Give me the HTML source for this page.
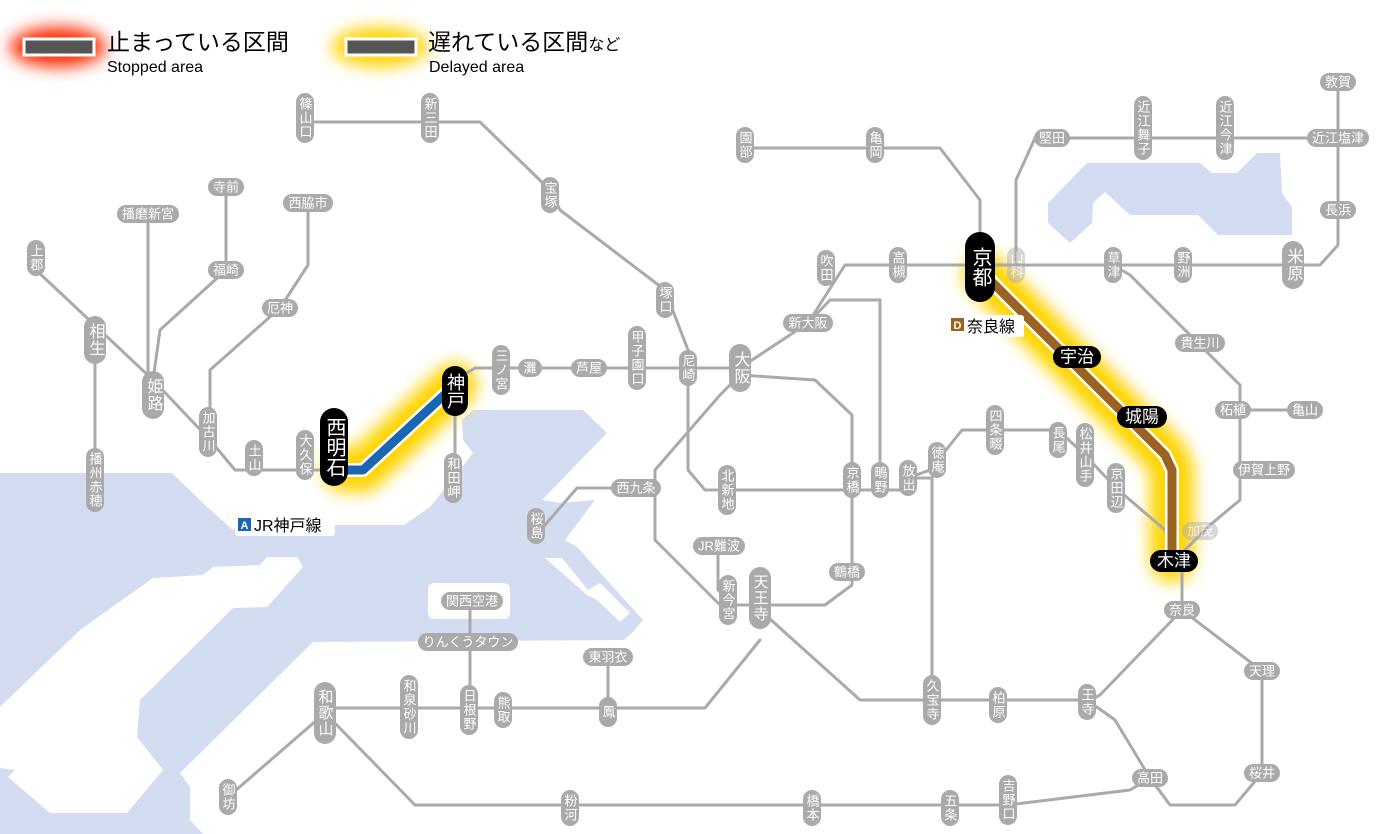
<!DOCTYPE html>
<html><head><meta charset="utf-8"><style>
html,body{margin:0;padding:0;background:#fff;}
svg{display:block;font-family:"Liberation Sans","Noto Sans CJK JP",sans-serif;}
.l{fill:none;stroke:#aaa;stroke-width:3;stroke-linejoin:round;stroke-linecap:round}
.s rect{fill:#aaa}
.s text{fill:#fff;font-size:13px;text-anchor:middle;dominant-baseline:central}
.v text{writing-mode:vertical-rl;letter-spacing:1px}
.b rect{fill:#000}
.b text{fill:#fff;font-size:19px;text-anchor:middle;dominant-baseline:central}
</style></head><body>
<svg width="1400" height="834" viewBox="0 0 1400 834" xmlns="http://www.w3.org/2000/svg">
<defs>
<filter id="bl" x="-50%" y="-50%" width="200%" height="200%"><feGaussianBlur stdDeviation="8"/></filter>
</defs>
<!-- sea -->
<polygon fill="#d3dcf0" points="0,473 172,473 203,503 233,530 240,525 404,525 430,507 473,453 463,440 462,420 473,410 583,410 607,433 542,500 560,503 595,500 565,540 577,547 643,620 633,632 624,640 313,642 180,773 190,787 190,820 203,834 0,834"/>
<polygon fill="#fff" points="0,707 80,630 153,578 203,575 213,567 260,565 267,557 297,557 303,567 267,607 233,608 140,700 137,737 163,770 127,813 50,813 8,777 15,770 0,768"/>
<rect x="428" y="583" width="82" height="36" rx="6" fill="#fff"/>
<polygon fill="#fff" points="545,558 562,558 588,590 600,583 630,613 620,622 597,600 587,595"/>
<!-- Lake Biwa -->
<polygon fill="#d3dcf0" points="1048,203 1087,163 1200,163 1212,173 1237,173 1257,153 1280,153 1282,193 1292,207 1292,235 1218,235 1198,215 1130,215 1105,192 1093,203 1092,223 1070,243 1048,223"/>
<!-- glows -->
<polyline points="345,470 363,470 455,385" fill="none" stroke="#ffd400" stroke-width="44" stroke-linecap="round" filter="url(#bl)"/>
<polyline points="985,275 1165,455 1172,470 1172,560" fill="none" stroke="#ffd400" stroke-width="44" stroke-linecap="round" filter="url(#bl)"/>
<!-- lines -->
<g class="l">
<polyline points="36,270 153,380 210,440 235,470 333,470"/>
<polyline points="95,340 95,480"/>
<polyline points="226,187 226,270 160,330 153,380"/>
<polyline points="148,214 148,380"/>
<polyline points="308,203 308,265 280,308 210,370 210,440"/>
<polyline points="455,380 475,368 740,368"/>
<polyline points="455,395 455,480"/>
<polyline points="740,375 815,380 852,415 852,585 825,605 720,605 655,540 655,470 720,395 740,375"/>
<polyline points="688,368 688,470 705,490 908,490"/>
<polyline points="305,122 480,122 550,190 560,210 665,290 688,350"/>
<polyline points="745,148 940,148 980,200 980,265"/>
<polyline points="740,368 808,323 845,265 1320,265 1338,245 1338,82"/>
<polyline points="1016,265 1016,180 1035,138 1338,138"/>
<polyline points="1113,265 1130,275 1240,385 1240,500 1210,525 1180,555"/>
<polyline points="1240,410 1305,410"/>
<polyline points="1182,555 1182,610"/>
<polyline points="1182,610 1262,671 1262,773 1235,805 1170,805 1150,778"/>
<polyline points="1182,610 1100,695 1087,702"/>
<polyline points="760,610 860,700 1087,700 1115,720 1150,778"/>
<polyline points="325,713 415,805 1008,805 1130,790 1150,778"/>
<polyline points="325,708 705,708 760,640"/>
<polyline points="470,601 470,708"/>
<polyline points="608,657 608,712"/>
<polyline points="325,713 228,797"/>
<polyline points="636,488 577,488 545,525"/>
<polyline points="718,546 718,590 728,600"/>
<polyline points="808,323 830,300 880,300 880,490"/>
<polyline points="908,478 932,478 932,700"/>
<polyline points="908,478 930,470 962,430 1058,430 1085,455 1116,488 1165,530 1180,555"/>
</g>
<!-- highlighted -->
<polyline points="345,470 363,470 455,385" fill="none" stroke="#fff" stroke-width="14" stroke-linejoin="round"/>
<polyline points="345,470 363,470 455,385" fill="none" stroke="#1a66b3" stroke-width="9" stroke-linejoin="round"/>
<polyline points="985,275 1165,455 1172,470 1172,560" fill="none" stroke="#fff" stroke-width="14" stroke-linejoin="round"/>
<polyline points="985,275 1165,455 1172,470 1172,560" fill="none" stroke="#9a6320" stroke-width="9" stroke-linejoin="round"/>
<!-- vertical gray labels -->
<g class="s v">
<rect x="296" y="93" width="18" height="50" rx="9"/><text x="305" y="118">篠山口</text>
<rect x="421" y="93" width="18" height="50" rx="9"/><text x="430" y="118">新三田</text>
<rect x="541" y="177" width="18" height="36" rx="9"/><text x="550" y="195">宝塚</text>
<rect x="656" y="282" width="18" height="36" rx="9"/><text x="665" y="300">塚口</text>
<rect x="679" y="350" width="18" height="36" rx="9"/><text x="688" y="368">尼崎</text>
<rect x="817" y="250" width="18" height="36" rx="9"/><text x="826" y="268">吹田</text>
<rect x="889" y="247" width="18" height="36" rx="9"/><text x="898" y="265">高槻</text>
<g opacity=".45"><rect x="1007" y="247" width="18" height="36" rx="9"/><text x="1016" y="265">山科</text></g>
<rect x="1104" y="247" width="18" height="36" rx="9"/><text x="1113" y="265">草津</text>
<rect x="1174" y="247" width="18" height="36" rx="9"/><text x="1183" y="265">野洲</text>
<rect x="1216" y="96" width="18" height="64" rx="9"/><text x="1225" y="128">近江今津</text>
<rect x="1134" y="96" width="18" height="64" rx="9"/><text x="1143" y="128">近江舞子</text>
<rect x="736" y="127" width="18" height="36" rx="9"/><text x="745" y="145">園部</text>
<rect x="866" y="127" width="18" height="36" rx="9"/><text x="875" y="145">亀岡</text>
<rect x="492" y="345" width="18" height="50" rx="9"/><text x="501" y="370">三ノ宮</text>
<rect x="628" y="326" width="18" height="64" rx="9"/><text x="637" y="358">甲子園口</text>
<rect x="296" y="430" width="18" height="50" rx="9"/><text x="305" y="455">大久保</text>
<rect x="245" y="440" width="18" height="36" rx="9"/><text x="254" y="458">土山</text>
<rect x="199" y="407" width="18" height="50" rx="9"/><text x="208" y="432">加古川</text>
<rect x="27" y="240" width="18" height="36" rx="9"/><text x="36" y="258">上郡</text>
<rect x="86" y="448" width="18" height="64" rx="9"/><text x="95" y="480">播州赤穂</text>
<rect x="444" y="453" width="18" height="50" rx="9"/><text x="453" y="478">和田岬</text>
<rect x="527" y="508" width="18" height="36" rx="9"/><text x="536" y="526">桜島</text>
<rect x="718" y="465" width="18" height="50" rx="9"/><text x="727" y="490">北新地</text>
<rect x="843" y="462" width="18" height="36" rx="9"/><text x="852" y="480">京橋</text>
<rect x="871" y="462" width="18" height="36" rx="9"/><text x="880" y="480">鴫野</text>
<rect x="899" y="460" width="18" height="36" rx="9"/><text x="908" y="478">放出</text>
<rect x="928" y="442" width="18" height="36" rx="9"/><text x="937" y="460">徳庵</text>
<rect x="986" y="405" width="18" height="50" rx="9"/><text x="995" y="430">四条畷</text>
<rect x="1049" y="422" width="18" height="36" rx="9"/><text x="1058" y="440">長尾</text>
<rect x="1076" y="423" width="18" height="64" rx="9"/><text x="1085" y="455">松井山手</text>
<rect x="1107" y="463" width="18" height="50" rx="9"/><text x="1116" y="488">京田辺</text>
<rect x="1078" y="684" width="18" height="36" rx="9"/><text x="1087" y="702">王寺</text>
<rect x="989" y="687" width="18" height="36" rx="9"/><text x="998" y="705">柏原</text>
<rect x="923" y="675" width="18" height="50" rx="9"/><text x="932" y="700">久宝寺</text>
<rect x="719" y="575" width="18" height="50" rx="9"/><text x="728" y="600">新今宮</text>
<rect x="599" y="697" width="18" height="30" rx="9"/><text x="608" y="712">鳳</text>
<rect x="494" y="692" width="18" height="36" rx="9"/><text x="503" y="710">熊取</text>
<rect x="460" y="685" width="18" height="50" rx="9"/><text x="469" y="710">日根野</text>
<rect x="400" y="675" width="18" height="64" rx="9"/><text x="409" y="707">和泉砂川</text>
<rect x="219" y="779" width="18" height="36" rx="9"/><text x="228" y="797">御坊</text>
<rect x="561" y="790" width="18" height="36" rx="9"/><text x="570" y="808">粉河</text>
<rect x="803" y="790" width="18" height="36" rx="9"/><text x="812" y="808">橋本</text>
<rect x="941" y="790" width="18" height="36" rx="9"/><text x="950" y="808">五条</text>
<rect x="999" y="775" width="18" height="50" rx="9"/><text x="1008" y="800">吉野口</text>
</g>
<!-- bigger vertical gray -->
<g class="s v" style="font-size:16px">
<rect x="729" y="344" width="22" height="48" rx="11"/><text x="740" y="368" style="font-size:16px">大阪</text>
<rect x="1282" y="241" width="22" height="48" rx="11"/><text x="1293" y="265" style="font-size:16px">米原</text>
<rect x="142" y="371" width="22" height="48" rx="11"/><text x="153" y="395" style="font-size:16px">姫路</text>
<rect x="84" y="316" width="22" height="48" rx="11"/><text x="95" y="340" style="font-size:16px">相生</text>
<rect x="749" y="567" width="22" height="62" rx="11"/><text x="760" y="598" style="font-size:15px">天王寺</text>
<rect x="314" y="682" width="22" height="62" rx="11"/><text x="325" y="713" style="font-size:15px">和歌山</text>
</g>
<!-- horizontal gray labels -->
<g class="s">
<rect x="783" y="314" width="50" height="18" rx="9"/><text x="808" y="323">新大阪</text>
<rect x="1320" y="201" width="36" height="18" rx="9"/><text x="1338" y="210">長浜</text>
<rect x="1307" y="129" width="62" height="18" rx="9"/><text x="1338" y="138">近江塩津</text>
<rect x="1320" y="73" width="36" height="18" rx="9"/><text x="1338" y="82">敦賀</text>
<rect x="1034" y="129" width="36" height="18" rx="9"/><text x="1052" y="138">堅田</text>
<rect x="518" y="359" width="24" height="18" rx="9"/><text x="530" y="368">灘</text>
<rect x="571" y="359" width="36" height="18" rx="9"/><text x="589" y="368">芦屋</text>
<rect x="117" y="205" width="62" height="18" rx="9"/><text x="148" y="214">播磨新宮</text>
<rect x="208" y="178" width="36" height="18" rx="9"/><text x="226" y="187">寺前</text>
<rect x="208" y="261" width="36" height="18" rx="9"/><text x="226" y="270">福崎</text>
<rect x="283" y="194" width="50" height="18" rx="9"/><text x="308" y="203">西脇市</text>
<rect x="262" y="299" width="36" height="18" rx="9"/><text x="280" y="308">厄神</text>
<rect x="611" y="479" width="50" height="18" rx="9"/><text x="636" y="488">西九条</text>
<g opacity=".45"><rect x="1182" y="522" width="36" height="18" rx="9"/><text x="1200" y="531">加茂</text></g>
<rect x="1164" y="601" width="36" height="18" rx="9"/><text x="1182" y="610">奈良</text>
<rect x="1244" y="662" width="36" height="18" rx="9"/><text x="1262" y="671">天理</text>
<rect x="1244" y="764" width="36" height="18" rx="9"/><text x="1262" y="773">桜井</text>
<rect x="1132" y="769" width="36" height="18" rx="9"/><text x="1150" y="778">高田</text>
<rect x="829" y="563" width="36" height="18" rx="9"/><text x="847" y="572">鶴橋</text>
<rect x="693" y="537" width="52" height="18" rx="9"/><text x="719" y="546">JR難波</text>
<rect x="441" y="592" width="62" height="18" rx="9"/><text x="472" y="601">関西空港</text>
<rect x="418" y="633" width="100" height="18" rx="9"/><text x="468" y="642">りんくうタウン</text>
<rect x="583" y="648" width="50" height="18" rx="9"/><text x="608" y="657">東羽衣</text>
<rect x="1175" y="334" width="50" height="18" rx="9"/><text x="1200" y="343">貴生川</text>
<rect x="1215" y="401" width="36" height="18" rx="9"/><text x="1233" y="410">柘植</text>
<rect x="1287" y="401" width="36" height="18" rx="9"/><text x="1305" y="410">亀山</text>
<rect x="1233" y="461" width="62" height="18" rx="9"/><text x="1264" y="470">伊賀上野</text>
</g>
<!-- black labels -->
<g class="b">
<rect x="965" y="232" width="30" height="70" rx="15"/><text x="980" y="267" style="writing-mode:vertical-rl;font-size:20px">京都</text>
<rect x="320" y="408" width="28" height="78" rx="14"/><text x="334" y="447" style="writing-mode:vertical-rl;font-size:20px">西明石</text>
<rect x="442" y="366" width="26" height="50" rx="13"/><text x="455" y="391" style="writing-mode:vertical-rl;font-size:18px">神戸</text>
<rect x="1053" y="346" width="48" height="22" rx="11"/><text x="1077" y="357" style="font-size:17px">宇治</text>
<rect x="1117" y="406" width="50" height="22" rx="11"/><text x="1142" y="417" style="font-size:17px">城陽</text>
<rect x="1150" y="550" width="48" height="22" rx="11"/><text x="1174" y="561" style="font-size:17px">木津</text>
</g>
<!-- line names -->
<rect x="235" y="514" width="100" height="22" rx="3" fill="#fff"/>
<rect x="238" y="518" width="13" height="13" fill="#1a66b3"/>
<text x="244.5" y="529" font-size="11" fill="#fff" text-anchor="middle" font-weight="bold">A</text>
<text x="254" y="531" font-size="16" fill="#000">JR神戸線</text>
<rect x="948" y="315" width="76" height="22" rx="3" fill="#fff"/>
<rect x="951" y="318" width="13" height="13" fill="#9a6320"/>
<text x="957.5" y="329" font-size="11" fill="#fff" text-anchor="middle" font-weight="bold">D</text>
<text x="967" y="332" font-size="16" fill="#000">奈良線</text>
<!-- legend -->
<ellipse cx="58" cy="47" rx="48" ry="20" fill="#ff2a00" filter="url(#bl)"/>
<rect x="24" y="39" width="70" height="16" fill="#555" stroke="#fff" stroke-width="3"/>
<text x="107" y="50" font-size="23" fill="#000">止まっている区間</text>
<text x="107" y="72" font-size="16" fill="#000">Stopped area</text>
<ellipse cx="380" cy="47" rx="48" ry="20" fill="#ffd400" filter="url(#bl)"/>
<rect x="346" y="39" width="70" height="16" fill="#555" stroke="#fff" stroke-width="3"/>
<text x="428" y="50" font-size="23" fill="#000">遅れている区間<tspan font-size="16">など</tspan></text>
<text x="429" y="72" font-size="16" fill="#000">Delayed area</text>
</svg>
</body></html>
